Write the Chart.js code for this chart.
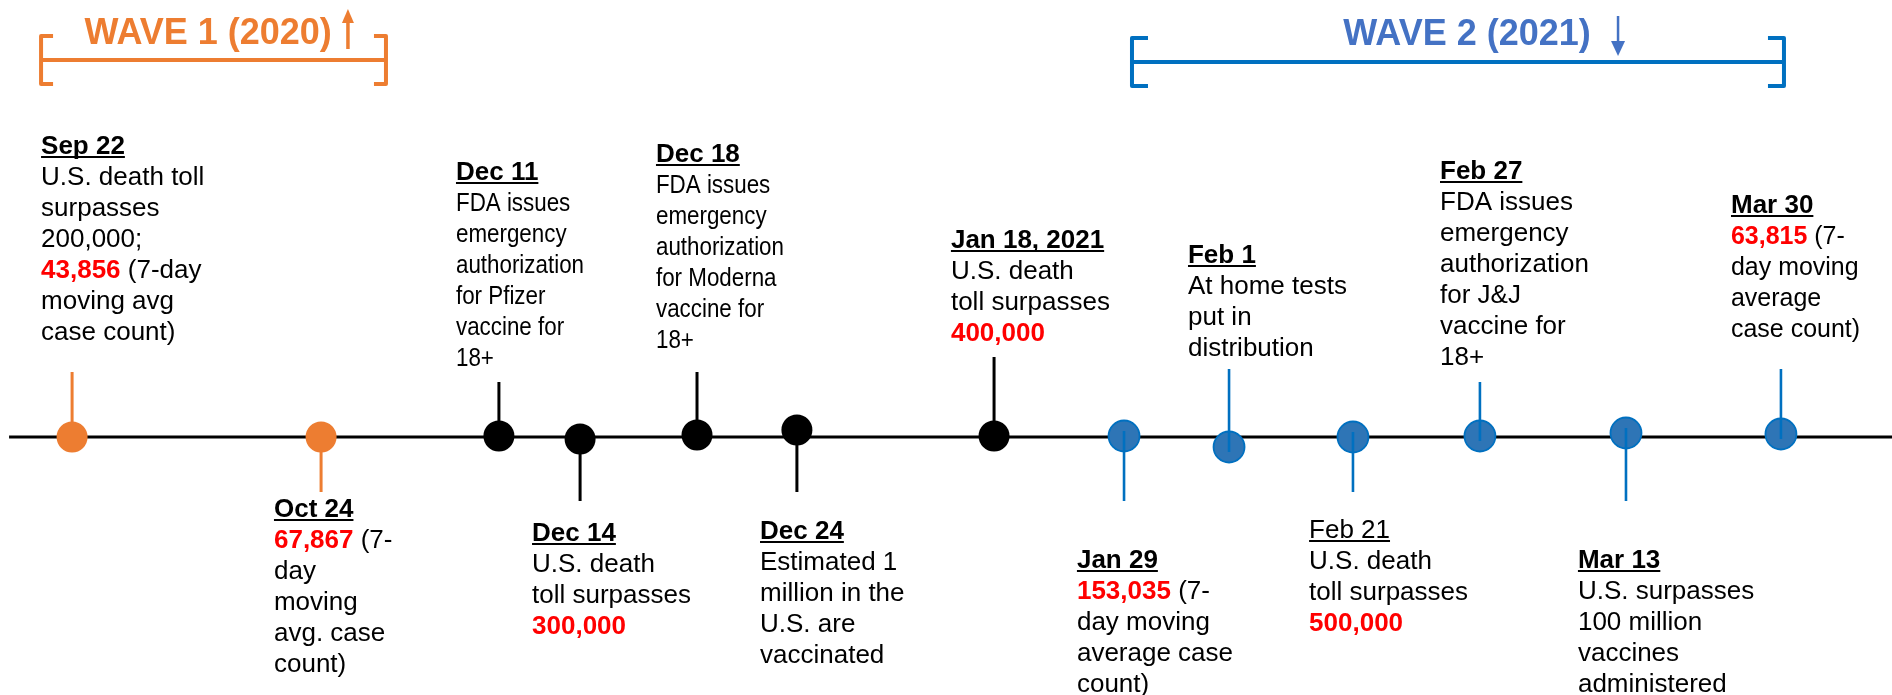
<!DOCTYPE html>
<html><head><meta charset="utf-8">
<script src="https://cdn.jsdelivr.net/npm/chart.js@4.4.1/dist/chart.umd.min.js"></script>
<style>html,body{margin:0;padding:0;background:#fff;overflow:hidden}canvas{display:block}</style>
</head><body>
<canvas id="c" width="1892" height="695"></canvas>
<script>
// ---------------- data ----------------
const eventDates = ['Sep 22','Oct 24','Dec 11','Dec 14','Dec 18','Dec 24','Jan 18, 2021','Jan 29','Feb 1','Feb 21','Feb 27','Mar 13','Mar 30'];
const eventGroup = ['w1','w1','mid','mid','mid','mid','mid','w2','w2','w2','w2','w2','w2'];
// position of each event along the timeline (% of its length)
const eventPos = [3.81,16.97,26.37,30.66,36.84,42.12,52.54,59.41,64.96,71.51,78.22,85.94,94.13];
// small vertical displacement of each dot from the timeline
const dotOffset = [0,0,1,-2,2,7,1,1,-10,0,1,4,3];
// end of each connector (positive = above timeline)
const stemEnd = [65,-55,55,-64,65,-55,80,-64,68,-55,55,-64,68];
// label block anchor
const labelPos = [2.17,14.48,24.10,28.12,34.67,40.17,50.26,56.92,62.79,69.19,76.11,83.40,91.49];
const labelTop = [283,-80,257,-104,275,-102,189,-131,174,-101,258,-131,224];
const headingBold = [true,true,true,true,true,true,true,true,true,false,true,true,true];
// *text* = red bold figure
const labelLines = [
  ['U.S. death toll','surpasses','200,000;','*43,856* (7-day','moving avg','case count)'],
  ['*67,867* (7-','day','moving','avg. case','count)'],
  ['FDA issues','emergency','authorization','for Pfizer','vaccine for','18+'],
  ['U.S. death','toll surpasses','*300,000*'],
  ['FDA issues','emergency','authorization','for Moderna','vaccine for','18+'],
  ['Estimated 1','million in the','U.S. are','vaccinated'],
  ['U.S. death','toll surpasses','*400,000*'],
  ['*153,035* (7-','day moving','average case','count)'],
  ['At home tests','put in','distribution'],
  ['U.S. death','toll surpasses','*500,000*'],
  ['FDA issues','emergency','authorization','for J&J','vaccine for','18+'],
  ['U.S. surpasses','100 million','vaccines','administered'],
  ['*63,815* (7-','day moving','average','case count)']
];
const waveNames = ['WAVE 1 (2020)','WAVE 2 (2021)'];
const waveStart = [2.17,59.83];
const waveEnd = [20.40,94.29];
const waveArrow = ['up','down'];
const axisStart = 0.48, axisEnd = 100;

// ---------------- styles ----------------
const bodyStretch = [1,1,0.86,1,0.86,1,1,1,1,1,1,1,0.96];
const groupStyle = {
  w1:  {fill:'#ED7D31', border:'#ED7D31', stem:'#ED7D31', stemW:3, stemOnTop:false},
  mid: {fill:'#000000', border:'#000000', stem:'#000000', stemW:3, stemOnTop:false},
  w2:  {fill:'#2E75B6', border:'#0070C0', stem:'#0070C0', stemW:2.6, stemOnTop:true}
};
const waveStyle = [
  {color:'#ED7D31', arrow:'#ED7D31', lineY:377, titleY:393, titleX:11.0, arrowX:18.39, serif:12, aTop:428, aBot:388},
  {color:'#0070C0', arrow:'#4472C4', text:'#4472C4', lineY:375, titleY:392, titleX:77.54, arrowX:85.52, serif:16, aTop:421, aBot:383}
];
const FONT = '"Liberation Sans", Arial, "Helvetica Neue", sans-serif';
const LINE_H = 31;

// ---------------- datasets ----------------
const datasets = [];
datasets.push({
  type:'scatter', showLine:true, data:[{x:axisStart,y:0},{x:axisEnd,y:0}],
  borderColor:'#000', borderWidth:3, pointRadius:0, order:20
});
eventDates.forEach((d,i)=>{
  const st = groupStyle[eventGroup[i]];
  const start = st.stemOnTop ? dotOffset[i] - Math.sign(stemEnd[i])*5 : dotOffset[i];
  datasets.push({
    type:'scatter', showLine:true,
    data:[{x:eventPos[i],y:start},{x:eventPos[i],y:stemEnd[i]}],
    borderColor:st.stem, borderWidth:st.stemW, pointRadius:0,
    order: st.stemOnTop ? 2 : 9
  });
});
['w1','mid','w2'].forEach(g=>{
  const st = groupStyle[g];
  const pts = [];
  eventDates.forEach((d,i)=>{ if(eventGroup[i]===g) pts.push({x:eventPos[i], y:dotOffset[i]}); });
  datasets.push({
    type:'scatter', data:pts, pointRadius:15.5, pointHoverRadius:15.5,
    pointBackgroundColor:st.fill, pointBorderColor:st.border,
    pointBorderWidth: g==='w2'?1.8:0, order: 5
  });
});

// ---------------- text / brackets plugin ----------------
function drawRich(ctx, text, x, y){
  const parts = text.split('*');
  let cx = x;
  parts.forEach((p,k)=>{
    if(!p) return;
    const red = k%2===1;
    ctx.font = (red?'bold ':'') + '26px ' + FONT;
    ctx.fillStyle = red ? '#FF0000' : '#000000';
    ctx.fillText(p, cx, y);
    cx += ctx.measureText(p).width;
  });
}
const timelinePlugin = {
  id:'timelineText',
  afterDatasetsDraw(chart){
    const ctx = chart.ctx, xs = chart.scales.x, ys = chart.scales.y;
    ctx.save();
    ctx.textBaseline = 'alphabetic';
    ctx.textAlign = 'left';
    // wave brackets and titles
    waveNames.forEach((name,w)=>{
      const s = waveStyle[w];
      const x1 = xs.getPixelForValue(waveStart[w]), x2 = xs.getPixelForValue(waveEnd[w]);
      const y = ys.getPixelForValue(s.lineY), h = 24;
      ctx.strokeStyle = s.color; ctx.lineWidth = 4; ctx.lineJoin = 'round'; ctx.lineCap = 'butt';
      ctx.beginPath();
      ctx.moveTo(x1+s.serif, y-h); ctx.lineTo(x1, y-h); ctx.lineTo(x1, y+h); ctx.lineTo(x1+s.serif, y+h);
      ctx.moveTo(x2-s.serif, y-h); ctx.lineTo(x2, y-h); ctx.lineTo(x2, y+h); ctx.lineTo(x2-s.serif, y+h);
      ctx.moveTo(x1, y); ctx.lineTo(x2, y);
      ctx.stroke();
      ctx.font = 'bold 36px ' + FONT;
      ctx.fillStyle = s.text || s.color;
      ctx.textAlign = 'center';
      ctx.fillText(name, xs.getPixelForValue(s.titleX), ys.getPixelForValue(s.titleY));
      ctx.textAlign = 'left';
      // arrow
      const ax = xs.getPixelForValue(s.arrowX);
      ctx.fillStyle = s.arrow; ctx.strokeStyle = s.arrow;
      const top = ys.getPixelForValue(s.aTop), bot = ys.getPixelForValue(s.aBot);
      ctx.lineWidth = 3.5;
      ctx.beginPath();
      if(waveArrow[w]==='up'){
        ctx.moveTo(ax, bot); ctx.lineTo(ax, top+12); ctx.stroke();
        ctx.beginPath(); ctx.moveTo(ax, top); ctx.lineTo(ax-6, top+14); ctx.lineTo(ax+6, top+14); ctx.closePath(); ctx.fill();
      } else {
        ctx.lineWidth = 2.5;
        ctx.moveTo(ax, top); ctx.lineTo(ax, bot-10); ctx.stroke();
        ctx.beginPath(); ctx.moveTo(ax, bot+2); ctx.lineTo(ax-7, bot-13); ctx.lineTo(ax+7, bot-13); ctx.closePath(); ctx.fill();
      }
    });
    // event labels
    eventDates.forEach((d,i)=>{
      const x0 = xs.getPixelForValue(labelPos[i]);
      let y = ys.getPixelForValue(labelTop[i]);
      ctx.font = (headingBold[i]?'bold ':'') + '26px ' + FONT;
      ctx.fillStyle = '#000';
      ctx.fillText(d, x0, y);
      const w = ctx.measureText(d).width;
      ctx.fillRect(x0, y+2, w, 2);
      ctx.save();
      ctx.translate(x0, 0);
      ctx.scale(bodyStretch[i], 1);
      labelLines[i].forEach(line=>{
        y += LINE_H;
        drawRich(ctx, line, 0, y);
      });
      ctx.restore();
    });
    ctx.restore();
  }
};

new Chart(document.getElementById('c'), {
  data:{datasets},
  options:{
    responsive:false, animation:false, events:[],
    layout:{padding:0, autoPadding:false},
    plugins:{legend:{display:false}, tooltip:{enabled:false}},
    scales:{
      x:{type:'linear', min:0, max:100, display:false},
      y:{type:'linear', min:-258, max:437, display:false}
    }
  },
  plugins:[timelinePlugin]
});
</script>
</body></html>
